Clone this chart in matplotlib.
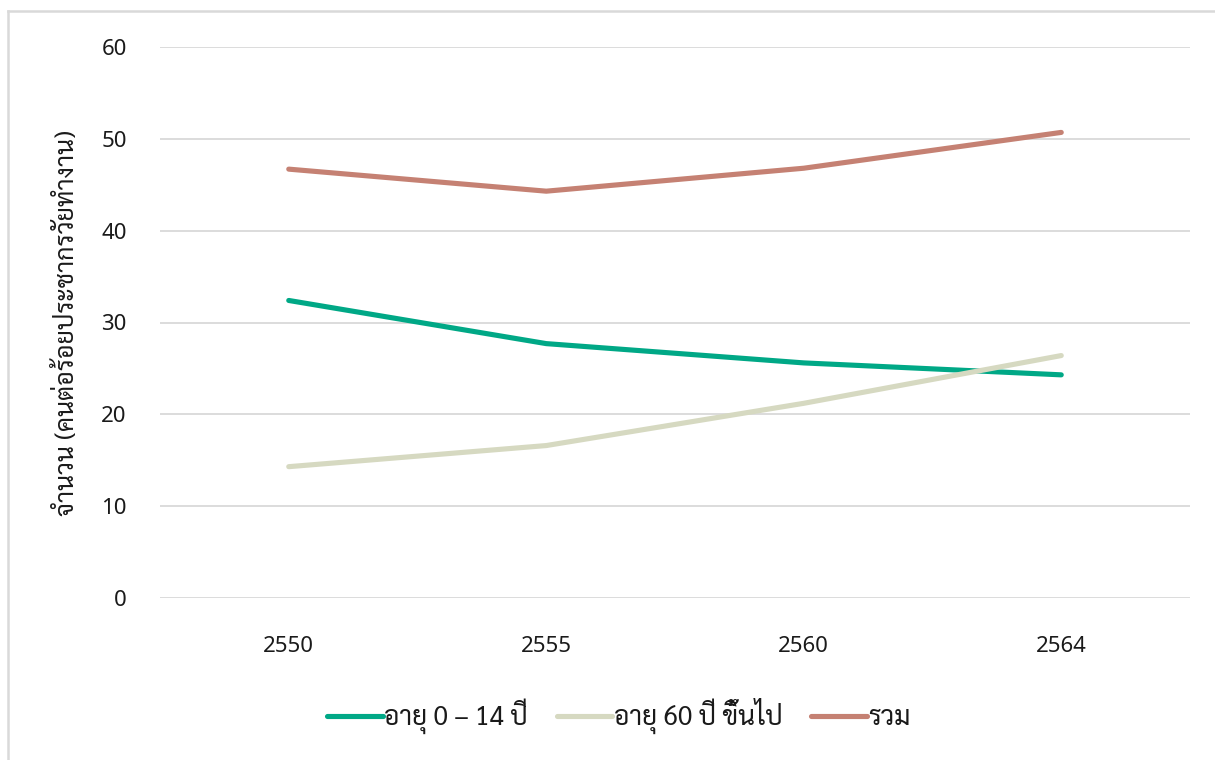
import matplotlib
matplotlib.use("Agg")
import matplotlib.pyplot as plt
from matplotlib.lines import Line2D
import numpy as np

years = ["2550", "2555", "2560", "2564"]
age_0_14 = [32.4, 27.7, 25.6, 24.3]
age_60_plus = [14.3, 16.6, 21.2, 26.4]
total = [46.7, 44.3, 46.8, 50.7]

series_labels = ["อายุ 0 – 14 ปี", "อายุ 60 ปี ขึ้นไป", "รวม"]
series_colors = ["#00a886", "#d6d9c1", "#c58173"]
y_label = "จำนวน (คนต่อร้อยประชากรวัยทำงาน)"

thai_font = ["Sarabun", "DejaVu Sans"]
num_font = ["Noto Sans", "DejaVu Sans"]

fig = plt.figure(figsize=(12.15, 7.6), dpi=100)
ax = fig.add_axes([160 / 1215, 1 - 598 / 760, 1030 / 1215, 551 / 760])

x = np.arange(len(years))
lw = 3.7
for vals, color in zip([age_0_14, age_60_plus, total], series_colors):
    ax.plot(x, vals, color=color, linewidth=lw, solid_capstyle="round",
            solid_joinstyle="round", zorder=3)

ax.set_xlim(-0.5, len(years) - 0.5)
ax.set_ylim(0, 60)
ax.set_yticks(np.arange(0, 61, 10))
ax.set_xticks(x)
ax.set_xticklabels(years)
ax.grid(axis="y", color="#d9d9d9", linewidth=1.3, zorder=0)
ax.grid(axis="x", visible=False)
ax.set_axisbelow(True)
for s in ax.spines.values():
    s.set_visible(False)
ax.tick_params(axis="both", length=0, labelsize=16, labelcolor="#1a1a1a")
ax.tick_params(axis="y", pad=24)
ax.tick_params(axis="x", pad=27)
for lab in ax.get_xticklabels() + ax.get_yticklabels():
    lab.set_family(num_font)
    lab.set_fontweight("light")

ax.set_ylabel(y_label, family=thai_font, fontsize=18, color="#1a1a1a")
ax.yaxis.set_label_coords(-0.078, 0.5)

handles = [Line2D([], [], color=c, linewidth=lw, solid_capstyle="round")
           for c in series_colors]
leg = fig.legend(handles, series_labels, loc="center", ncol=3,
                 bbox_to_anchor=(619 / 1215, 1 - 716 / 760), frameon=False,
                 prop={"family": thai_font, "size": 19}, handlelength=2.1,
                 handletextpad=0.05, columnspacing=1.1)
for t in leg.get_texts():
    t.set_color("#1a1a1a")

# chart-area border (left and top edges)
fig.add_artist(Line2D([8 / 1215, 8 / 1215], [0, 1 - 11 / 760], color="#d9d9d9",
                      linewidth=1.8, transform=fig.transFigure))
fig.add_artist(Line2D([8 / 1215, 1], [1 - 11 / 760, 1 - 11 / 760], color="#d9d9d9",
                      linewidth=1.8, transform=fig.transFigure))

fig.savefig("out.png", dpi=100)
